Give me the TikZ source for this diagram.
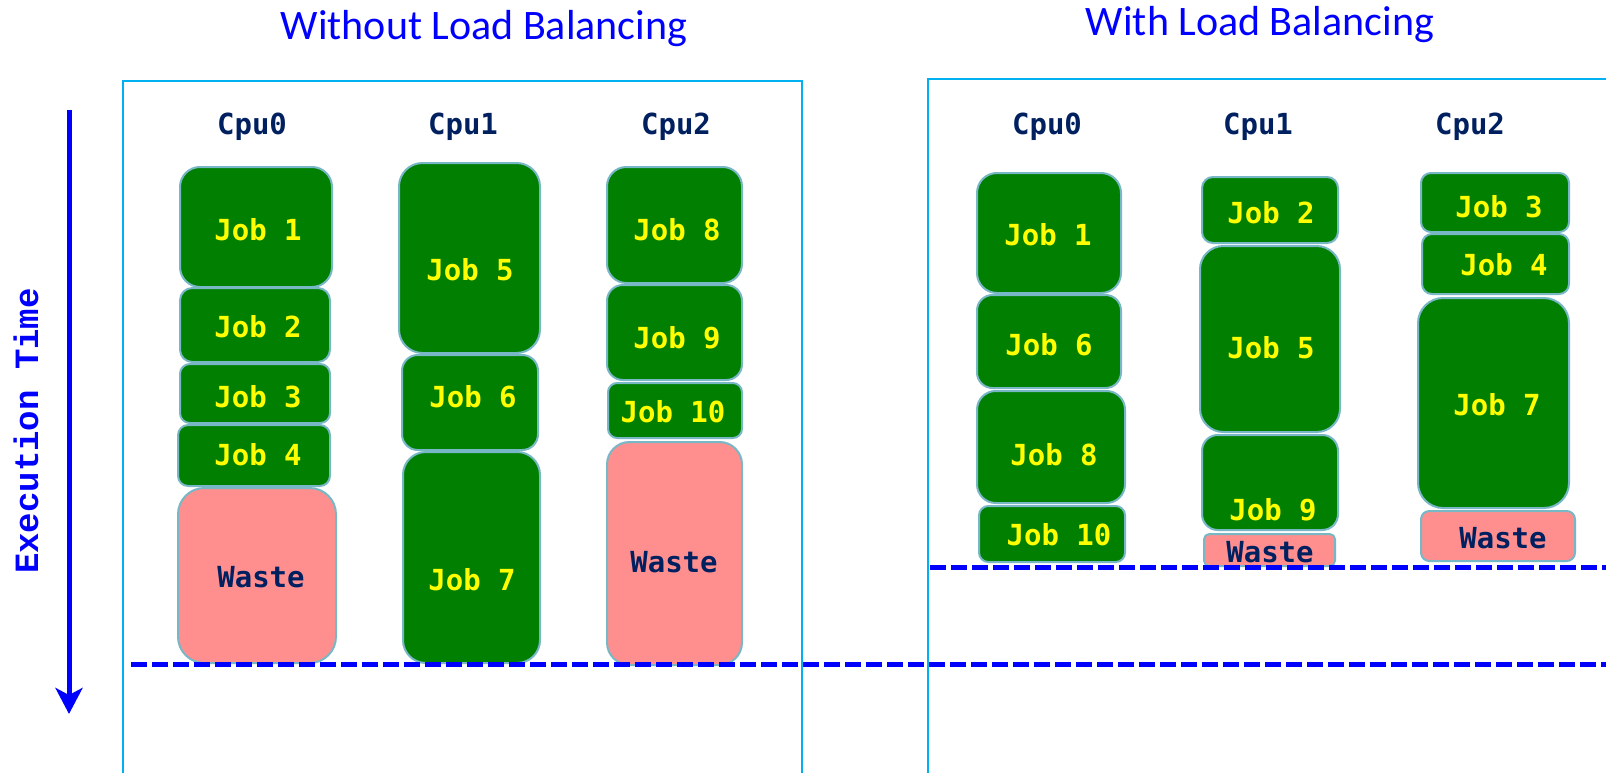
\documentclass[tikz,border=0pt]{standalone}
\usepackage{fontspec}
\usetikzlibrary{arrows.meta}
\newfontfamily\titlefont{Carlito}
\newfontfamily\cellfont{DejaVu Sans Mono}
\newfontfamily\axisfont{Liberation Mono}

\definecolor{titleblue}{HTML}{0000FF}
\definecolor{framecyan}{HTML}{00B0F0}
\definecolor{jobgreen}{HTML}{007F00}
\definecolor{boxedge}{HTML}{78B7C5}
\definecolor{wastepink}{HTML}{FF8F8F}
\definecolor{labelnavy}{HTML}{002060}
\definecolor{jobyellow}{HTML}{FFFF00}

\tikzset{
  paneltitle/.style={text=titleblue, font=\titlefont\fontsize{42}{42}\selectfont, anchor=base, inner sep=0pt},
  cpulabel/.style={text=labelnavy, font=\cellfont\bfseries\fontsize{29}{29}\selectfont, inner sep=0pt},
  panelframe/.style={draw=framecyan, line width=1.8pt},
  jobcell/.style={draw=boxedge, fill=jobgreen, line width=2pt, inner sep=0pt, outer sep=0pt},
  wastecell/.style={draw=boxedge, fill=wastepink, line width=2pt, inner sep=0pt, outer sep=0pt},
  jobcelltext/.style={text=jobyellow, font=\cellfont\bfseries\fontsize{29}{29}\selectfont, inner sep=0pt},
  wastecelltext/.style={text=labelnavy, font=\cellfont\bfseries\fontsize{29}{29}\selectfont, inner sep=0pt},
  finishline/.style={draw=titleblue, line width=5pt, dash pattern=on 15.5pt off 5.5pt},
  timearrow/.style={draw=titleblue, line width=5pt, -{Stealth[length=26pt,width=27pt,inset=7pt]}},
  timelabel/.style={text=titleblue, font=\axisfont\bfseries\fontsize{34}{34}\selectfont, rotate=90, inner sep=0pt},
}

% #1 name, #2 kind (job/waste), #3..#6 corners x1 y1 x2 y2, #7 text, #8 #9 text position
\newcommand\taskcell[9]{%
  \pgfmathsetmacro\tcW{#5-#3}%
  \pgfmathsetmacro\tcH{#6-#4}%
  \pgfmathsetmacro\tcR{min(\tcW,\tcH)/6}%
  \node[#2cell, minimum width=\tcW pt, minimum height=\tcH pt, rounded corners=\tcR pt]
    (#1) at ({(#3+#5)/2},{(#4+#6)/2}) {};
  \node[#2celltext] (#1-t) at (#8,#9) {#7};
}

\begin{document}
\begin{tikzpicture}[x=1pt,y=-1pt]
\clip (0,0) rectangle (1606,773);
\fill[white] (0,0) rectangle (1606,773);

% panel titles
\node[paneltitle] (ttl-left) at (484,40) {Without Load Balancing};
\node[paneltitle] (ttl-right) at (1260,36) {With Load Balancing};

% time axis
\coordinate (axis-top) at (69,110);
\coordinate (axis-bot) at (69,714);
\draw[timearrow] (axis-top) -- (axis-bot);
\node[timelabel] (axis-lbl) at (26,431) {Execution Time};

% CPU headings
\node[cpulabel] (l-cpu0) at (252,127) {Cpu0};
\node[cpulabel] (l-cpu1) at (463,127) {Cpu1};
\node[cpulabel] (l-cpu2) at (676,127) {Cpu2};
\node[cpulabel] (r-cpu0) at (1047,127) {Cpu0};
\node[cpulabel] (r-cpu1) at (1258,127) {Cpu1};
\node[cpulabel] (r-cpu2) at (1470,127) {Cpu2};

% left panel, Cpu0
\taskcell{l0a}{job}{180}{167}{332}{287}{Job 1}{258}{230}
\taskcell{l0b}{job}{180}{288}{330}{362}{Job 2}{258}{327}
\taskcell{l0c}{job}{180}{364}{330}{423}{Job 3}{258}{397}
\taskcell{l0d}{job}{178}{425}{330}{486}{Job 4}{258}{455}
\taskcell{l0w}{waste}{178}{488}{336}{663}{Waste}{261}{577}
% left panel, Cpu1
\taskcell{l1a}{job}{399}{163}{540}{353}{Job 5}{470}{270}
\taskcell{l1b}{job}{402}{355}{538}{450}{Job 6}{473}{397}
\taskcell{l1c}{job}{403}{452}{540}{663}{Job 7}{472}{580}
% left panel, Cpu2
\taskcell{l2a}{job}{607}{167}{742}{283}{Job 8}{677}{230}
\taskcell{l2b}{job}{607}{285}{742}{380}{Job 9}{677}{338}
\taskcell{l2c}{job}{608}{383}{742}{438}{Job 10}{673}{412}
\taskcell{l2w}{waste}{607}{442}{742}{665}{Waste}{674}{562}

% right panel, Cpu0
\taskcell{r0a}{job}{977}{173}{1121}{293}{Job 1}{1048}{235}
\taskcell{r0b}{job}{977}{295}{1121}{388}{Job 6}{1049}{345}
\taskcell{r0c}{job}{977}{391}{1125}{503}{Job 8}{1054}{455}
\taskcell{r0d}{job}{979}{506}{1125}{562}{Job 10}{1059}{535}
% right panel, Cpu1
\taskcell{r1a}{job}{1202}{177}{1338}{243}{Job 2}{1271}{213}
\taskcell{r1b}{job}{1200}{246}{1340}{432}{Job 5}{1271}{348}
\taskcell{r1c}{job}{1202}{435}{1338}{530}{Job 9}{1273}{510}
\taskcell{r1w}{waste}{1204}{534}{1335}{566}{Waste}{1270}{552}
% right panel, Cpu2
\taskcell{r2a}{job}{1421}{173}{1569}{232}{Job 3}{1499}{207}
\taskcell{r2b}{job}{1422}{234}{1569}{294}{Job 4}{1504}{265}
\taskcell{r2c}{job}{1418}{298}{1569}{508}{Job 7}{1497}{405}
\taskcell{r2w}{waste}{1421}{511}{1575}{561}{Waste}{1503}{538}

% finishing times
\coordinate (fin-l-start) at (131,664);
\coordinate (fin-l-end) at (1610,664);
\coordinate (fin-r-start) at (930,567);
\coordinate (fin-r-end) at (1610,567);
\draw[finishline] (fin-l-start) -- (fin-l-end);
\draw[finishline] (fin-r-start) -- (fin-r-end);

% panel frames (open below and to the right)
\draw[panelframe] (123,800) -- (123,81) -- (802,81) -- (802,800);
\draw[panelframe] (928,800) -- (928,79) -- (1620,79);
\end{tikzpicture}
\end{document}
